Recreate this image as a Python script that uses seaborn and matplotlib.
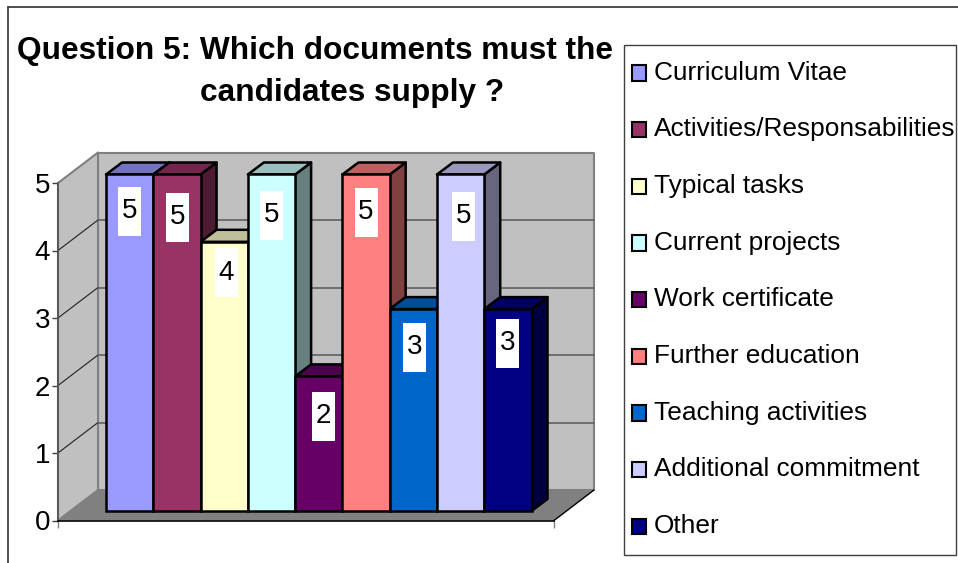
import seaborn as sns
import matplotlib.pyplot as plt
from matplotlib.lines import Line2D
from matplotlib.patches import Polygon, Rectangle
from matplotlib.colors import to_rgb
from matplotlib.transforms import IdentityTransform

categories = ['Curriculum Vitae', 'Activities/Responsabilities', 'Typical tasks',
              'Current projects', 'Work certificate', 'Further education',
              'Teaching activities', 'Additional commitment', 'Other']
values = [5, 5, 4, 5, 2, 5, 3, 5, 3]
colors = ['#9999FF', '#993366', '#FFFFCC', '#CCFFFF', '#660066',
          '#FF8080', '#0066CC', '#CCCCFF', '#000080']
y_ticks = [0, 1, 2, 3, 4, 5]

W, H = 958, 563
DEPTH_BAR = (16, 12)
DEPTH_WALL = (40, 30.5)
# label box shifts from the bar centre / bar top, in pixels
label_dx = [0, 1, 2, 0, 5, 0, 1, 3, 0]
label_dy = [37, 43, 31, 41, 40, 38, 38, 42, 34]

sns.set_theme(style='white')
plt.rcParams['font.family'] = ['Liberation Sans', 'DejaVu Sans']

fig = plt.figure(figsize=(W / 100, H / 100), dpi=100)


def rect(x0, y0, x1, y1):
    # pixel box (top-left origin) to figure fractions
    return [x0 / W, 1 - y1 / H, (x1 - x0) / W, (y1 - y0) / H]


# axes for the floor front edge and value axis
ax_back = fig.add_axes(rect(58, 183, 554, 520.5), facecolor='none')
ax_back.set_xlim(0, 1)
ax_back.set_ylim(0, 5)
ax_back.set_yticks(y_ticks)
ax_back.set_xticks([0, 1])
ax_back.set_xticklabels(['', ''])
ax_back.tick_params(axis='y', left=True, length=4.5, width=1, color='#404040', labelsize=20,
                    labelcolor='black', pad=1)
ax_back.tick_params(axis='x', bottom=True, length=5, width=1, color='#808080')
sns.despine(ax=ax_back, top=True, right=True)
ax_back.spines['left'].set_color('#505050')
ax_back.spines['left'].set_linewidth(1.2)
ax_back.spines['bottom'].set_color('black')
ax_back.spines['bottom'].set_linewidth(1.2)

# axes for the front faces of the bars
ax = fig.add_axes(rect(106, 174.5, 531.5, 511), facecolor='none')
sns.barplot(x=categories, y=values, hue=categories, palette=colors, hue_order=categories,
            order=categories, width=1, dodge=False, saturation=1, edgecolor='black',
            ax=ax, zorder=5, legend=True)
ax.set_xlim(-0.5, len(categories) - 0.5)
ax.set_ylim(0, 5)
ax.set_axis_off()
bars = [b for c in ax.containers for b in c]
for bar in bars:
    bar.set_linewidth(1.8)
    bar.set_edgecolor('black')
    bar.set_clip_on(False)
handles, labels = ax.get_legend_handles_labels()
if ax.get_legend():
    ax.get_legend().remove()

fig.canvas.draw()
to_px = ax_back.transData.transform
dx, dy = DEPTH_WALL


def add_poly(a, pts, face, edge, lw=1.0, z=1):
    a.add_patch(Polygon(pts, closed=True, facecolor=face, edgecolor=edge, linewidth=lw,
                        transform=IdentityTransform(), clip_on=False, zorder=z,
                        joinstyle='round'))


# walls and floor
(x0, y0), (x1, y5) = to_px((0, 0)), to_px((1, 5))
add_poly(ax_back, [(x0 + dx, y0 + dy), (x1 + dx, y0 + dy), (x1 + dx, y5 + dy), (x0 + dx, y5 + dy)],
         '#C0C0C0', '#808080', 1.5)
add_poly(ax_back, [(x0, y0), (x0 + dx, y0 + dy), (x0 + dx, y5 + dy), (x0, y5)],
         '#C0C0C0', '#808080', 1.5)
add_poly(ax_back, [(x0, y0), (x0 + dx, y0 + dy), (x1 + dx, y0 + dy), (x1, y0)],
         '#808080', 'none', 0, z=1.5)
ax_back.add_line(Line2D([x1, x1 + dx], [y0, y0 + dy], color='black', lw=1,
                        transform=IdentityTransform(), clip_on=False, zorder=2))
for v in y_ticks[1:-1]:
    xa, ya = to_px((0, v))
    ax_back.add_line(Line2D([xa, xa + dx], [ya, ya + dy], color='#202020', lw=0.8,
                            transform=IdentityTransform(), clip_on=False, zorder=2))
    ax_back.add_line(Line2D([xa + dx, x1 + dx], [ya + dy, ya + dy], color='#606060', lw=1.2,
                            transform=IdentityTransform(), clip_on=False, zorder=2))

# side and top faces of the bars, left to right so that later tops overlap
bar_dx, bar_dy = DEPTH_BAR
for bar, c in zip(bars, colors):
    (bx0, by0) = ax.transData.transform((bar.get_x(), 0))
    (bx1, by1) = ax.transData.transform((bar.get_x() + bar.get_width(), bar.get_height()))
    rgb = to_rgb(c)
    side = tuple(k * 0.5 for k in rgb)
    top = tuple(k * 0.75 for k in rgb)
    add_poly(ax, [(bx1, by0), (bx1 + bar_dx, by0 + bar_dy), (bx1 + bar_dx, by1 + bar_dy), (bx1, by1)],
             side, 'black', 1.8, z=3)
    add_poly(ax, [(bx0, by1), (bx0 + bar_dx, by1 + bar_dy), (bx1 + bar_dx, by1 + bar_dy), (bx1, by1)],
             top, 'black', 1.8, z=3)

# value labels on white boxes
for i, v in enumerate(values):
    cx, cy = ax.transData.transform((i, v))
    cx += label_dx[i]
    cy -= label_dy[i]
    ax.add_patch(Rectangle((cx - 11.5, cy - 24.5), 23, 49, facecolor='white', edgecolor='none',
                           transform=IdentityTransform(), clip_on=False, zorder=6))
    ax.text(cx, cy, str(v), transform=IdentityTransform(), ha='center', va='center',
            fontsize=20, color='black', zorder=7)

# title
fig.text(315 / W, 1 - 51 / H, 'Question 5: Which documents must the',
         ha='center', va='center', fontsize=22.8, fontweight='bold', color='black')
fig.text(352 / W, 1 - 93 / H, 'candidates supply ?',
         ha='center', va='center', fontsize=22.8, fontweight='bold', color='black')

# legend, box drawn separately
fig.add_artist(Rectangle((624 / W, 1 - 555 / H), 332 / W, 510 / H, facecolor='white',
                         edgecolor='#404040', linewidth=1, transform=fig.transFigure, zorder=3))
leg = fig.legend(handles, labels, loc='upper left', bbox_to_anchor=(632 / W, 1 - 60.5 / H),
                 frameon=False, fontsize=18.9, handlelength=0.53, handleheight=0.53,
                 handletextpad=0.31, labelspacing=1.245, borderpad=0, borderaxespad=0,
                 labelcolor='black')
leg.set_zorder(4)
for h in leg.legend_handles:
    h.set_edgecolor('black')
    h.set_linewidth(1.5)
    h.set_y(h.get_y() - 2)

# outer chart border
fig.add_artist(Line2D([8 / W, 1], [1 - 6.5 / H, 1 - 6.5 / H], color='#303030', lw=1.2,
                      transform=fig.transFigure))
fig.add_artist(Line2D([8 / W, 8 / W], [0, 1 - 6.5 / H], color='#303030', lw=1.2,
                      transform=fig.transFigure))

fig.savefig('out.png', dpi=100)
